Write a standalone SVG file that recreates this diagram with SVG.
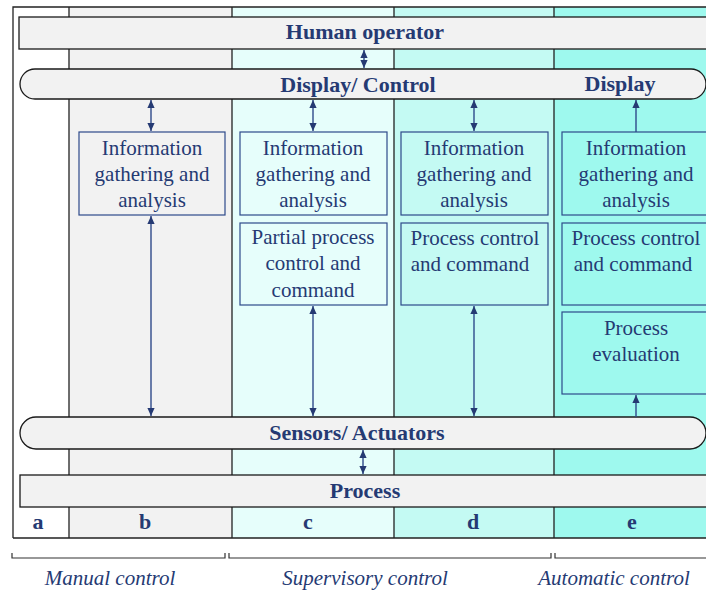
<svg xmlns="http://www.w3.org/2000/svg" width="706" height="591" viewBox="0 0 706 591">
<style>
.col{stroke:none}
.grid{stroke:#222;stroke-width:1.3;fill:none}
.bar{fill:#f2f2f2;stroke:#1a1a1a;stroke-width:1.3}
.box{stroke:#2e4a8a;stroke-width:1.2}
.bt{font-family:"Liberation Serif","Times New Roman",serif;font-weight:bold;font-size:22px;fill:#253a73;text-anchor:middle}
.nt{font-family:"Liberation Serif","Times New Roman",serif;font-size:21px;fill:#253a73;text-anchor:middle}
.it{font-family:"Liberation Serif","Times New Roman",serif;font-style:italic;font-size:21px;fill:#253a73;text-anchor:middle}
.ar{stroke:#2e4a8a;stroke-width:1.4;fill:none}
.br{stroke:#333;stroke-width:1.2;fill:none}
</style>
<defs>
<marker id="ah" viewBox="0 0 10 10" refX="10" refY="5" markerWidth="8" markerHeight="8" markerUnits="userSpaceOnUse" orient="auto-start-reverse">
<path d="M0,0.5 L10,5 L0,9.5 z" fill="#253a73"/>
</marker>
</defs>
<g id="columns">
<rect class="col" x="13" y="7" width="56" height="531" fill="#ffffff"/>
<rect class="col" x="69" y="7" width="163" height="531" fill="#f2f2f2"/>
<rect class="col" x="232" y="7" width="162" height="531" fill="#e6fefb"/>
<rect class="col" x="394" y="7" width="160" height="531" fill="#c4faf3"/>
<rect class="col" x="554" y="7" width="160" height="531" fill="#9ef9ee"/>
<path class="grid" d="M13,538 V7 H710 M13,538 H710 M69,7 V538 M232,7 V538 M394,7 V538 M554,7 V538"/>
</g>
<g id="human-operator">
<rect class="bar" x="19" y="17" width="700" height="32"/>
<text class="bt" x="365" y="39">Human operator</text>
</g>
<g id="display-control">
<rect class="bar" x="20" y="69" width="686" height="30" rx="15" ry="15"/>
<text class="bt" x="358" y="92">Display/ Control</text>
<text class="bt" x="620" y="91">Display</text>
</g>
<g id="sensors-actuators">
<rect class="bar" x="20" y="417" width="686" height="32" rx="16" ry="16"/>
<text class="bt" x="357" y="440">Sensors/ Actuators</text>
</g>
<g id="process">
<rect class="bar" x="20" y="475" width="700" height="32"/>
<text class="bt" x="365" y="498">Process</text>
</g>
<g id="letters">
<text class="bt" x="38" y="529">a</text>
<text class="bt" x="145" y="529">b</text>
<text class="bt" x="308" y="529">c</text>
<text class="bt" x="473" y="529">d</text>
<text class="bt" x="632" y="529">e</text>
</g>
<g id="b-info">
<rect class="box" x="79" y="132" width="146" height="83" fill="#f2f2f2"/>
<text class="nt" x="152" y="155">Information</text>
<text class="nt" x="152" y="181">gathering  and</text>
<text class="nt" x="152" y="207">analysis</text>
</g>
<g id="c-info">
<rect class="box" x="240" y="132" width="147" height="83" fill="#e6fefb"/>
<text class="nt" x="313" y="155">Information</text>
<text class="nt" x="313" y="181">gathering  and</text>
<text class="nt" x="313" y="207">analysis</text>
</g>
<g id="c-partial">
<rect class="box" x="240" y="223" width="147" height="82" fill="#e6fefb"/>
<text class="nt" x="313" y="244">Partial process</text>
<text class="nt" x="313" y="270">control and</text>
<text class="nt" x="313" y="297">command</text>
</g>
<g id="d-info">
<rect class="box" x="401" y="132" width="147" height="83" fill="#c4faf3"/>
<text class="nt" x="474" y="155">Information</text>
<text class="nt" x="474" y="181">gathering  and</text>
<text class="nt" x="474" y="207">analysis</text>
</g>
<g id="d-control">
<rect class="box" x="401" y="223" width="147" height="82" fill="#c4faf3"/>
<text class="nt" x="475" y="245">Process control</text>
<text class="nt" x="470" y="271">and command</text>
</g>
<g id="e-info">
<rect class="box" x="562" y="132" width="160" height="83" fill="#9ef9ee"/>
<text class="nt" x="636" y="155">Information</text>
<text class="nt" x="636" y="181">gathering  and</text>
<text class="nt" x="636" y="207">analysis</text>
</g>
<g id="e-control">
<rect class="box" x="562" y="223" width="160" height="82" fill="#9ef9ee"/>
<text class="nt" x="636" y="245">Process control</text>
<text class="nt" x="633" y="271">and command</text>
</g>
<g id="e-evaluation">
<rect class="box" x="562" y="312" width="160" height="82" fill="#9ef9ee"/>
<text class="nt" x="636" y="335">Process</text>
<text class="nt" x="636" y="361">evaluation</text>
</g>
<g id="connectors">
<line class="ar" x1="364" y1="50" x2="364" y2="68" marker-start="url(#ah)" marker-end="url(#ah)"/>
<line class="ar" x1="151" y1="100" x2="151" y2="131" marker-start="url(#ah)" marker-end="url(#ah)"/>
<line class="ar" x1="313" y1="100" x2="313" y2="131" marker-start="url(#ah)" marker-end="url(#ah)"/>
<line class="ar" x1="474" y1="100" x2="474" y2="131" marker-start="url(#ah)" marker-end="url(#ah)"/>
<line class="ar" x1="636" y1="132" x2="636" y2="100" marker-end="url(#ah)"/>
<line class="ar" x1="151" y1="216" x2="151" y2="416" marker-start="url(#ah)" marker-end="url(#ah)"/>
<line class="ar" x1="313" y1="306" x2="313" y2="416" marker-start="url(#ah)" marker-end="url(#ah)"/>
<line class="ar" x1="474" y1="306" x2="474" y2="416" marker-start="url(#ah)" marker-end="url(#ah)"/>
<line class="ar" x1="636" y1="417" x2="636" y2="395" marker-end="url(#ah)"/>
<line class="ar" x1="363" y1="450" x2="363" y2="474" marker-start="url(#ah)" marker-end="url(#ah)"/>
</g>
<g id="brackets">
<path class="br" d="M12,553 V558 H225 V553"/>
<path class="br" d="M229,553 V558 H551 V553"/>
<path class="br" d="M555,553 V558 H710"/>
<text class="it" x="110" y="585">Manual control</text>
<text class="it" x="365" y="585">Supervisory control</text>
<text class="it" x="614" y="585">Automatic control</text>
</g>
</svg>
